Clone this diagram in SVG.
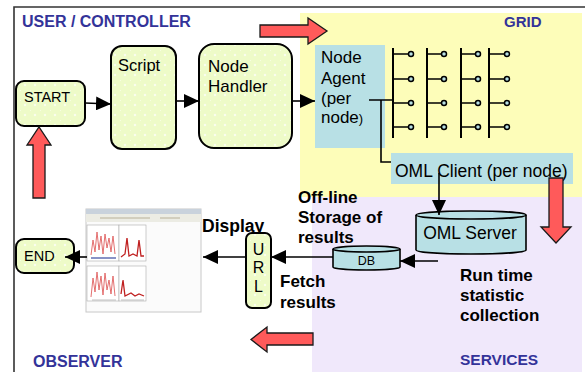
<svg xmlns="http://www.w3.org/2000/svg" width="585" height="372" viewBox="0 0 585 372">
<style>
.box{fill:url(#dots);stroke:#000;stroke-width:2}
.blue{fill:#b8e0e5}
.cyl{fill:#b8e0e5;stroke:#000;stroke-width:1.6}
.t{font-family:"Liberation Sans",Arial,sans-serif;fill:#000}
.b{font-family:"Liberation Sans",Arial,sans-serif;font-weight:bold;fill:#000}
.hd{font-family:"Liberation Sans",Arial,sans-serif;font-weight:bold;fill:#333399;font-size:15px}
.red{fill:#ff5a5a;stroke:#1a1a1a;stroke-width:1.3}
.ln{fill:none;stroke:#000;stroke-width:1.6}
.g{fill:none;stroke:#000;stroke-width:2}
.dot{fill:#b8e0e5;stroke:#000;stroke-width:1.5}
</style>
<defs>
<pattern id="dots" width="10" height="10" patternUnits="userSpaceOnUse">
<rect width="10" height="10" fill="#eefbc8"/>
<path d="M5,3.5 L5.6,4.4 L6.5,5 L5.6,5.6 L5,6.5 L4.4,5.6 L3.5,5 L4.4,4.4 Z" fill="#ffffff"/>
<rect x="0" y="0" width="1" height="1" fill="#f7fde3"/>
</pattern>
<marker id="ah" markerUnits="userSpaceOnUse" markerWidth="15" markerHeight="14" refX="15" refY="7" orient="auto">
<path d="M0,0 L15,7 L0,14 Z" fill="#000"/>
</marker>
</defs>
<rect width="585" height="372" fill="#fff"/>
<!-- regions -->
<rect x="300" y="13" width="282" height="184" fill="#fdfdb9"/>
<rect x="312" y="197" width="270" height="175" fill="#f0e8fb"/>
<path d="M14,372 V7 H585" fill="none" stroke="#333" stroke-width="1.6"/>
<text class="hd" x="22" y="27" style="font-size:16px">USER / CONTROLLER</text>
<text class="hd" x="504" y="27">GRID</text>
<text class="hd" x="460" y="365" style="font-size:15.5px">SERVICES</text>
<text class="hd" x="33" y="367" style="font-size:16px">OBSERVER</text>

<g id="start"><rect class="box" x="16" y="81" width="69" height="45" rx="8"/><text class="t" x="24" y="102" font-size="14.5">START</text></g>
<g id="script"><rect class="box" x="111" y="46" width="65" height="103" rx="11"/><text class="t" x="118" y="71" font-size="16.5">Script</text></g>
<g id="nodehandler"><rect class="box" x="199" y="44" width="93" height="104" rx="15"/><text class="t" x="208" y="72" font-size="17">Node</text><text class="t" x="208" y="92" font-size="17">Handler</text></g>
<g id="nodeagent"><rect class="blue" x="315" y="45" width="70" height="103"/><text class="t" x="321" y="63" font-size="17">Node</text><text class="t" x="321" y="84" font-size="17">Agent</text><text class="t" x="321" y="104" font-size="17">(per</text><text class="t" x="321" y="123" font-size="17">node<tspan font-size="13">)</tspan></text></g>
<g id="gridnodes">
<path class="g" d="M393,48 V138 M427,48 V138 M461,48 V138 M489,48 V138"/>
<path class="ln" d="M393,54 H408.5 M393,79 H408.5 M393,103 H408.5 M393,127 H408.5 M427,54 H441.5 M427,79 H441.5 M427,103 H441.5 M427,127 H441.5 M461,54 H475.5 M461,79 H475.5 M461,103 H475.5 M461,127 H475.5 M489,54 H504.5 M489,79 H504.5 M489,103 H504.5 M489,127 H504.5"/>
<g class="dot"><circle cx="411" cy="54" r="2.5"/><circle cx="411" cy="79" r="2.5"/><circle cx="411" cy="103" r="2.5"/><circle cx="411" cy="127" r="2.5"/><circle cx="444" cy="54" r="2.5"/><circle cx="444" cy="79" r="2.5"/><circle cx="444" cy="103" r="2.5"/><circle cx="444" cy="127" r="2.5"/><circle cx="478" cy="54" r="2.5"/><circle cx="478" cy="79" r="2.5"/><circle cx="478" cy="103" r="2.5"/><circle cx="478" cy="127" r="2.5"/><circle cx="507" cy="54" r="2.5"/><circle cx="507" cy="79" r="2.5"/><circle cx="507" cy="103" r="2.5"/><circle cx="507" cy="127" r="2.5"/></g>
</g>
<g id="omlclient"><rect class="blue" x="391" y="153" width="182" height="31"/><text class="t" x="395" y="177" font-size="17.5">OML Client (per node)</text></g>
<g id="omlserver"><path class="cyl" d="M416,215 V250 A55,4 0 0 0 526,250 V215"/><ellipse class="cyl" cx="471" cy="215" rx="55" ry="4"/><text class="t" x="470" y="239" font-size="17.5" text-anchor="middle">OML Server</text></g>
<g id="db"><path class="cyl" d="M333,249 V267 A33.5,3 0 0 0 400,267 V249"/><ellipse class="cyl" cx="366.5" cy="249" rx="33.5" ry="3"/><text class="t" x="366.5" y="265" font-size="12.5" text-anchor="middle">DB</text></g>
<g id="display"><text class="b" x="202" y="232" font-size="17.5">Display</text></g>
<g id="url"><rect class="box" x="246" y="233" width="25" height="75" rx="6"/><text class="t" x="258.5" y="255" font-size="16" text-anchor="middle">U</text><text class="t" x="258.5" y="273" font-size="16" text-anchor="middle">R</text><text class="t" x="258.5" y="292" font-size="16" text-anchor="middle">L</text></g>
<g id="end"><rect class="box" x="16" y="239" width="58" height="34" rx="8"/><text class="t" x="24" y="261" font-size="14.5">END</text></g>
<g id="screenshot">
<rect x="86" y="209" width="115" height="103" fill="#fbfbfb" stroke="#c8c8c8" stroke-width="1"/>
<rect x="86" y="209" width="115" height="5" fill="#c9d2dc"/>
<rect x="86" y="214" width="115" height="8" fill="#ecece4"/>
<path d="M100,218 H150 M160,218 H180" stroke="#b8b098" stroke-width="1.2"/>
<rect x="87" y="225" width="32" height="36" fill="#fff" stroke="#aaa" stroke-width="0.6"/>
<rect x="119" y="225" width="27" height="36" fill="#fff" stroke="#aaa" stroke-width="0.6"/>
<rect x="87" y="266" width="32" height="35" fill="#fff" stroke="#aaa" stroke-width="0.6"/>
<rect x="119" y="266" width="27" height="35" fill="#fff" stroke="#aaa" stroke-width="0.6"/>
<path d="M91,258 H116" stroke="#3a4aa0" stroke-width="1.2"/>
<path d="M91,255 L93,240 L95,252 L97,232 L99,250 L101,236 L103,254 L105,234 L107,248 L109,238 L111,252 L113,236 L115,254" fill="none" stroke="#e06060" stroke-width="0.9"/>
<path d="M121,257 L125,254 L127,238 L129,256 L133,254 L137,256 L139,240 L141,256 L144,256" fill="none" stroke="#c02020" stroke-width="1.3"/>
<path d="M91,297 L93,278 L95,292 L97,272 L99,290 L101,276 L103,295 L105,273 L107,290 L109,280 L111,294 L113,276 L115,296" fill="none" stroke="#e06060" stroke-width="0.9"/>
<path d="M121,294 L123,280 L125,296 L131,293 L135,296 L139,294 L144,296" fill="none" stroke="#c02020" stroke-width="1.3"/>
<path d="M92,300 H116 M121,300 H144" stroke="#b0b0b0" stroke-width="0.8"/>
</g>
<g id="labels">
<text class="b" x="298" y="203" font-size="17">Off-line</text>
<text class="b" x="298" y="223" font-size="17">Storage of</text>
<text class="b" x="298" y="243" font-size="17">results</text>
<text class="b" x="280" y="287" font-size="17">Fetch</text>
<text class="b" x="280" y="308" font-size="17">results</text>
<text class="b" x="460" y="281" font-size="17">Run time</text>
<text class="b" x="460" y="301" font-size="17">statistic</text>
<text class="b" x="460" y="321" font-size="17">collection</text>
</g>
<g id="connectors">
<path class="ln" d="M85,103 L111,104" marker-end="url(#ah)"/>
<path class="ln" d="M176,101 H199" marker-end="url(#ah)"/>
<path class="ln" d="M292,101 H315" marker-end="url(#ah)"/>
<path class="ln" d="M369,100 H393 M381,100 V162 H391"/>
<path class="ln" d="M439,173 V215" marker-end="url(#ah)"/>
<path class="ln" d="M438,261 H400" marker-end="url(#ah)"/>
<path class="ln" d="M333,257 H271" marker-end="url(#ah)"/>
<path class="ln" d="M246,257 H203" marker-end="url(#ah)"/>
<path class="ln" d="M87,257 H65" marker-end="url(#ah)"/>
</g>
<g id="redarrows">
<polygon class="red" points="260,25 308,25 308,18 327,31 308,44 308,37 260,37"/>
<polygon class="red" points="33,198 33,145 27,145 39,127 51,145 45,145 45,198"/>
<polygon class="red" points="313,333 267,333 267,327 251,339.5 267,352 267,345 313,345"/>
<polygon class="red" points="549,178 563,178 563,227 571,227 556,243 541,227 549,227"/>
</g>
</svg>
